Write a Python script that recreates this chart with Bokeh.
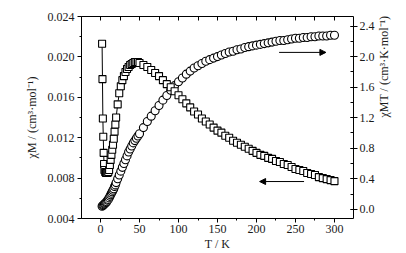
import math
from bokeh.plotting import figure
from bokeh.models import (Range1d, LinearAxis, SingleIntervalTicker, FixedTicker,
                          NumeralTickFormatter, Arrow, NormalHead)
from bokeh.embed import file_html
from bokeh.resources import INLINE

# ---------------- data ----------------
T_chi = [2, 2.5, 3, 3.5, 4, 4.5, 5, 6, 7, 8, 9, 10, 11, 12, 13, 14, 15, 16, 17, 18, 19, 20,
         22, 24, 26, 28, 30, 32, 34, 36, 38, 40, 42, 44, 46, 48, 50,
         55, 60, 65, 70, 75, 80, 85, 90, 95, 100, 105, 110, 115, 120, 125, 130, 135, 140,
         145, 150, 155, 160, 165, 170, 175, 180, 185, 190, 195, 200, 205, 210, 215, 220,
         225, 230, 235, 240, 245, 250, 255, 260, 265, 270, 275, 280, 285, 290, 295, 300]
chi_M = [0.0213, 0.0178, 0.0139, 0.0121, 0.0105, 0.0094, 0.0088, 0.0086, 0.0085, 0.0085,
         0.0085, 0.0086, 0.0088, 0.0093, 0.0098, 0.0103, 0.0108, 0.0113, 0.0119, 0.0126,
         0.0133, 0.0140, 0.0153, 0.0164, 0.0171, 0.0177, 0.0181, 0.0185, 0.0188, 0.0190,
         0.0192, 0.0193, 0.0194, 0.0195, 0.0195, 0.0195, 0.0194,
         0.0192, 0.0190, 0.0187, 0.0184, 0.0181, 0.0177, 0.0173, 0.0170, 0.0166, 0.0162,
         0.0158, 0.0154, 0.0150, 0.0146, 0.0143, 0.0139, 0.0136, 0.0133, 0.0130, 0.0127,
         0.0125, 0.0122, 0.0120, 0.0117, 0.0115, 0.0113, 0.0111, 0.0109, 0.0107, 0.0105,
         0.0103, 0.0102, 0.0100, 0.0099, 0.0097, 0.0096, 0.0094, 0.0093, 0.0091, 0.0089,
         0.0088, 0.0087, 0.0085, 0.0084, 0.0083, 0.0081, 0.0080, 0.0079, 0.0078, 0.0077]

T_chiT = [2, 3, 4, 5, 6, 7, 8, 9, 10, 11, 12, 13, 14, 15, 16, 17, 18, 19, 20,
          22, 24, 26, 28, 30, 32, 34, 36, 38, 40, 42, 44, 46, 48, 50,
          55, 60, 65, 70, 75, 80, 85, 90, 95, 100, 105, 110, 115, 120, 125, 130, 135, 140,
          145, 150, 155, 160, 165, 170, 175, 180, 185, 190, 195, 200, 205, 210, 215, 220,
          225, 230, 235, 240, 245, 250, 255, 260, 265, 270, 275, 280, 285, 290, 295, 300]
chi_MT = [0.04, 0.05, 0.06, 0.07, 0.08, 0.09, 0.10, 0.12, 0.13, 0.15, 0.17, 0.19, 0.21,
          0.23, 0.25, 0.27, 0.30, 0.32, 0.35, 0.40, 0.45, 0.50, 0.55, 0.60, 0.65, 0.70,
          0.75, 0.79, 0.83, 0.87, 0.90, 0.93, 0.96, 0.99,
          1.07, 1.15, 1.22, 1.29, 1.36, 1.43, 1.49, 1.56, 1.62, 1.67, 1.72, 1.77, 1.81,
          1.85, 1.88, 1.91, 1.94, 1.96, 1.98, 2.00, 2.02, 2.04, 2.06, 2.07, 2.09, 2.10,
          2.12, 2.13, 2.14, 2.15, 2.16, 2.17, 2.18, 2.19, 2.20, 2.21, 2.21, 2.22, 2.23,
          2.24, 2.24, 2.25, 2.25, 2.26, 2.26, 2.27, 2.27, 2.27, 2.28, 2.28]

top_ticks = [0, 25, 50, 75, 100, 125, 150, 175, 200, 225, 250, 275, 300]

x_title = "T / K"
yl_title = "χM / (cm³·mol⁻¹)"
yr_title = "χMT / (cm³·K·mol⁻¹)"

# ---------------- figure ----------------
X0, X1 = -24.4, 324.4
Y0, Y1 = 0.004, 0.024
R0, R1 = -0.12, 2.525

FONT = "Liberation Serif"
FS = "12px"
INK = "#1a1a1a"

p = figure(width=404, height=253, output_backend="svg", toolbar_location=None,
           x_range=Range1d(X0, X1), y_range=Range1d(Y0, Y1),
           x_axis_location=None, y_axis_location=None,
           min_border_left=81, min_border_right=51, min_border_top=16, min_border_bottom=33)
p.extra_y_ranges = {"r": Range1d(R0, R1)}
p.xgrid.visible = False
p.ygrid.visible = False
p.outline_line_color = None
p.background_fill_color = "white"
p.border_fill_color = "white"


def style(ax, tin, tout, mtin, mtout):
    ax.axis_line_color = "black"
    ax.axis_line_width = 1
    ax.major_tick_line_color = "black"
    ax.minor_tick_line_color = "black"
    ax.major_tick_in = tin
    ax.major_tick_out = tout
    ax.minor_tick_in = mtin
    ax.minor_tick_out = mtout
    ax.major_label_text_font = FONT
    ax.major_label_text_font_size = FS
    ax.major_label_text_color = INK
    ax.major_label_standoff = 2
    ax.axis_label_text_font = FONT
    ax.axis_label_text_font_size = FS
    ax.axis_label_text_font_style = "normal"
    ax.axis_label_text_color = INK


bottom = LinearAxis(ticker=SingleIntervalTicker(interval=50, num_minor_ticks=2),
                    formatter=NumeralTickFormatter(format="0"), axis_label=x_title)
style(bottom, 0, 4, 0, 2)
bottom.axis_label_standoff = 1
p.add_layout(bottom, "below")

top = LinearAxis(ticker=FixedTicker(ticks=[], minor_ticks=top_ticks))
style(top, 0, 0, 4, 0)
top.major_label_standoff = 0
p.add_layout(top, "above")

left = LinearAxis(ticker=SingleIntervalTicker(interval=0.004, num_minor_ticks=2),
                  formatter=NumeralTickFormatter(format="0.000"), axis_label=yl_title)
style(left, 0, 4, 0, 2)
left.major_label_standoff = 3
left.axis_label_standoff = 6
p.add_layout(left, "left")

right = LinearAxis(y_range_name="r", ticker=SingleIntervalTicker(interval=0.4, num_minor_ticks=2),
                   formatter=NumeralTickFormatter(format="0.0"))
style(right, 3, 4, 3, 0)
p.add_layout(right, "right")

# a bare axis that only carries the right-hand title (reads bottom to top)
right_title = LinearAxis(y_range_name="r", ticker=FixedTicker(ticks=[], minor_ticks=[]),
                         axis_label=yr_title)
style(right_title, 0, 0, 0, 0)
right_title.axis_line_color = None
right_title.major_label_standoff = 0
right_title.axis_label_standoff = 6
right_title.axis_label_orientation = math.pi / 2
right_title.axis_label_text_align = "center"
right_title.axis_label_text_baseline = "middle"
p.add_layout(right_title, "right")

# ---------------- series ----------------
p.line(T_chiT, chi_MT, y_range_name="r", line_color="black", line_width=1)
p.scatter(T_chiT, chi_MT, y_range_name="r", marker="circle", size=8,
          fill_color="white", line_color="black", line_width=1.1)
p.line(T_chi, chi_M, line_color="black", line_width=1)
p.scatter(T_chi, chi_M, marker="square", size=7,
          fill_color="white", line_color="black", line_width=1.1)

# arrows
p.add_layout(Arrow(end=NormalHead(size=6, fill_color="black", line_color="black"),
                   x_start=229, y_start=2.055, x_end=289, y_end=2.055,
                   y_range_name="r", line_color="black", line_width=1))
p.add_layout(Arrow(end=NormalHead(size=6, fill_color="black", line_color="black"),
                   x_start=261, y_start=0.00766, x_end=204, y_end=0.00766,
                   line_color="black", line_width=1))

open("out.html", "w").write(file_html(p, INLINE))
